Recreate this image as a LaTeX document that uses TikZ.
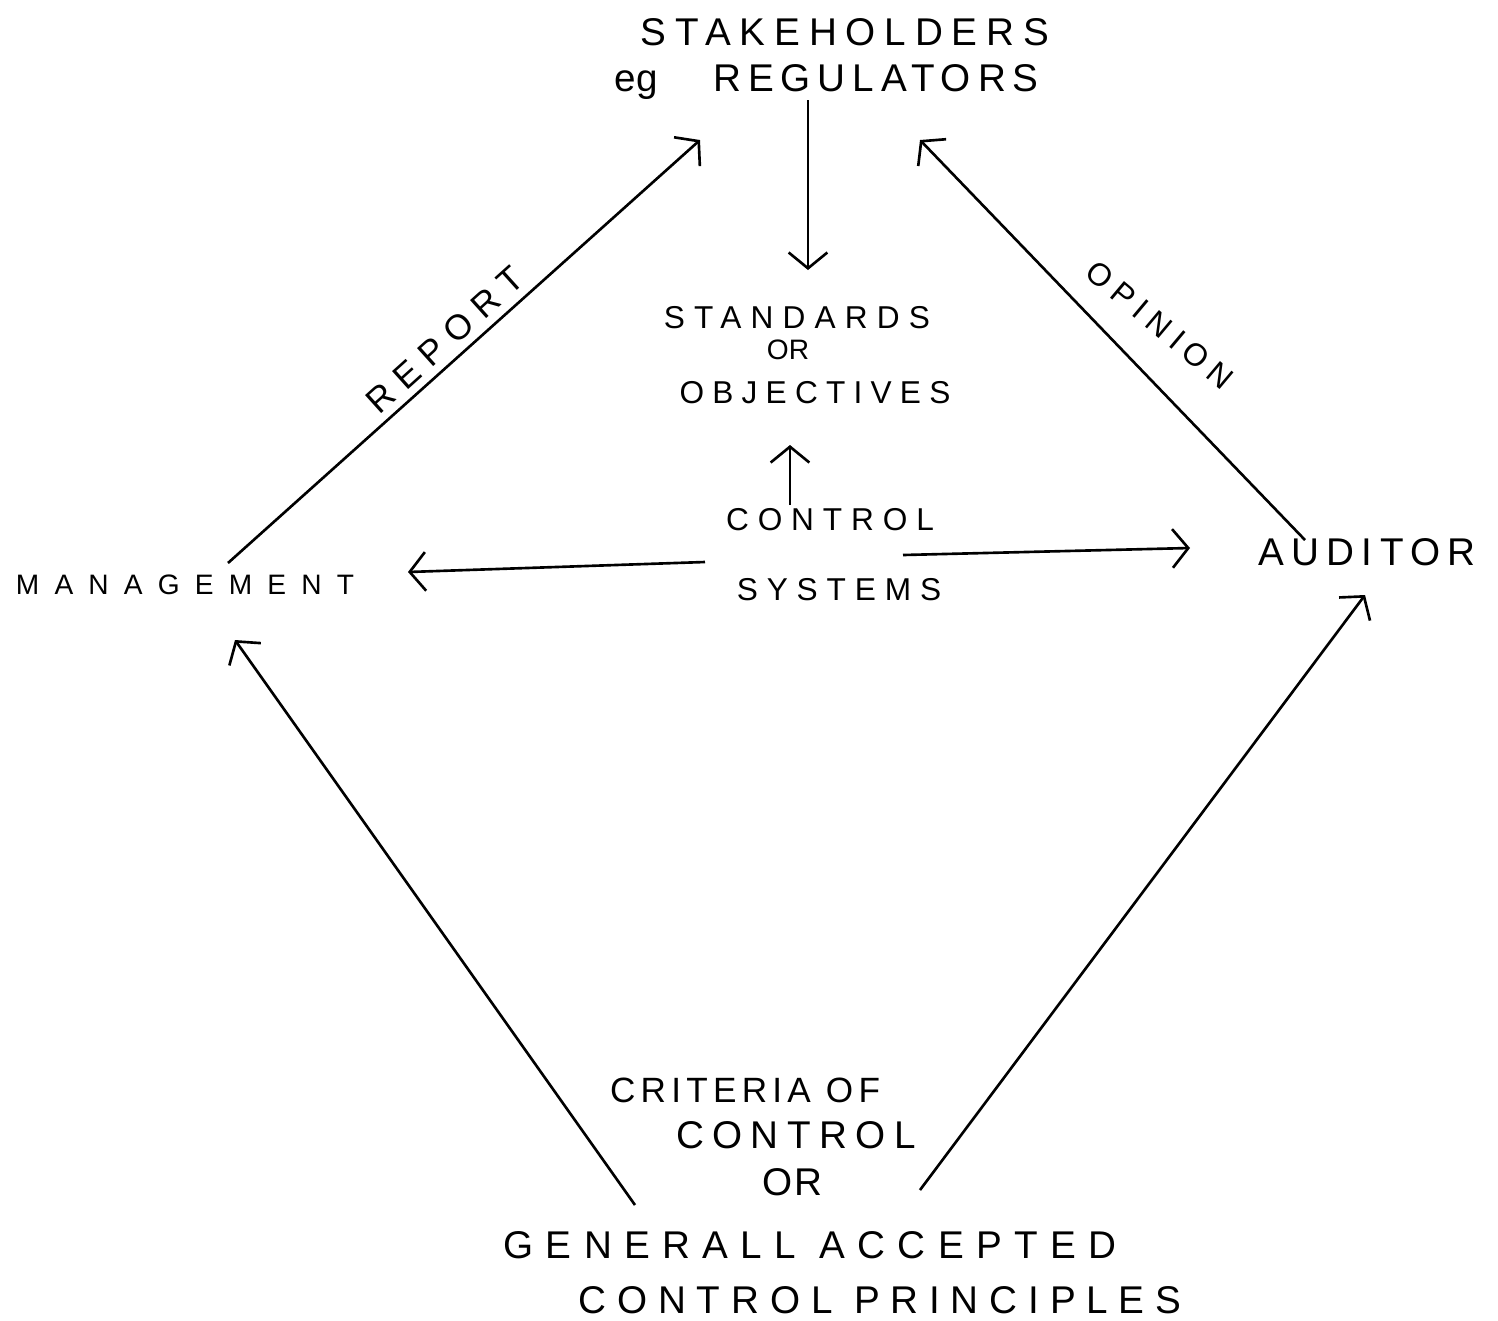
\documentclass[tikz,border=0pt]{standalone}
\usepackage{fontspec}
\setmainfont{Liberation Sans}
\usetikzlibrary{arrows.meta,calc}
\newcommand\ltsp[3]{{\fontsize{#1}{#1}\selectfont\addfontfeatures{LetterSpace=#2}#3}}
\begin{document}
\begin{tikzpicture}[x=0.02cm,y=-0.02cm,
  lbl/.style={inner sep=0pt, anchor=center},
  arr/.style={line width=1.5pt, -{Straight Barb[length=9pt,width=22pt,line width=1.5pt]}}]
\useasboundingbox (0,0) rectangle (1498,1320);
% texts
\node[lbl] (stake) at (845,32) {\ltsp{22}{23}{STAKEHOLDERS}};
\node[lbl] (eg) at (636,85) {\ltsp{22}{0}{eg}};
\node[lbl] (reg) at (876,78) {\ltsp{22}{18}{REGULATORS}};
\node[lbl] (std) at (797,318) {\ltsp{18}{29}{STANDARDS}};
\node[lbl] (or1) at (788,350) {\ltsp{16}{0}{OR}};
\node[lbl] (obj) at (815,393) {\ltsp{18}{26}{OBJECTIVES}};
\node[lbl] (ctl) at (830,520) {\ltsp{18}{28}{CONTROL}};
\node[lbl] (sys) at (839,590) {\ltsp{18}{28}{SYSTEMS}};
\node[lbl] (mgmt) at (185,585) {\ltsp{16}{54}{MANAGEMENT}};
\node[lbl] (aud) at (1367,552) {\ltsp{22}{19}{AUDITOR}};
\node[lbl] (crit) at (745,1090) {\ltsp{20}{15}{CRITERIA OF}};
\node[lbl] (ctl2) at (796,1135) {\ltsp{22}{22}{CONTROL}};
\node[lbl] (or2) at (792,1182) {\ltsp{22}{5}{OR}};
\node[lbl] (gen) at (810,1245) {\ltsp{22}{32}{GENERALL ACCEPTED}};
\node[lbl] (princ) at (880,1300) {\ltsp{22}{28}{CONTROL PRINCIPLES}};
\node[lbl, rotate=42] (rep) at (445,340) {\ltsp{20}{30}{REPORT}};
\node[lbl, rotate=-40] (opi) at (1160,325) {\ltsp{18}{25}{OPINION}};
% connectors
\draw[arr] ($(reg)+(-68,22)$) -- ($(std)+(11,-48)$);
\draw[arr] ($(ctl)+(-40,-15)$) -- ($(obj)+(-25,52)$);
\draw[arr] ($(ctl)+(-125,42)$) -- ($(mgmt)+(223,-13)$);
\draw[arr] ($(ctl)+(73,35)$) -- ($(aud)+(-177,-4)$);
\draw[arr] ($(mgmt)+(43,-22)$) -- ($(reg)+(-176,62)$);
\draw[arr] ($(aud)+(-62,-12)$) -- ($(reg)+(44,62)$);
\draw[arr] ($(gen)+(-175,-40)$) -- ($(mgmt)+(50,55)$);
\draw[arr] ($(gen)+(110,-55)$) -- ($(aud)+(-2,43)$);
\end{tikzpicture}
\end{document}
